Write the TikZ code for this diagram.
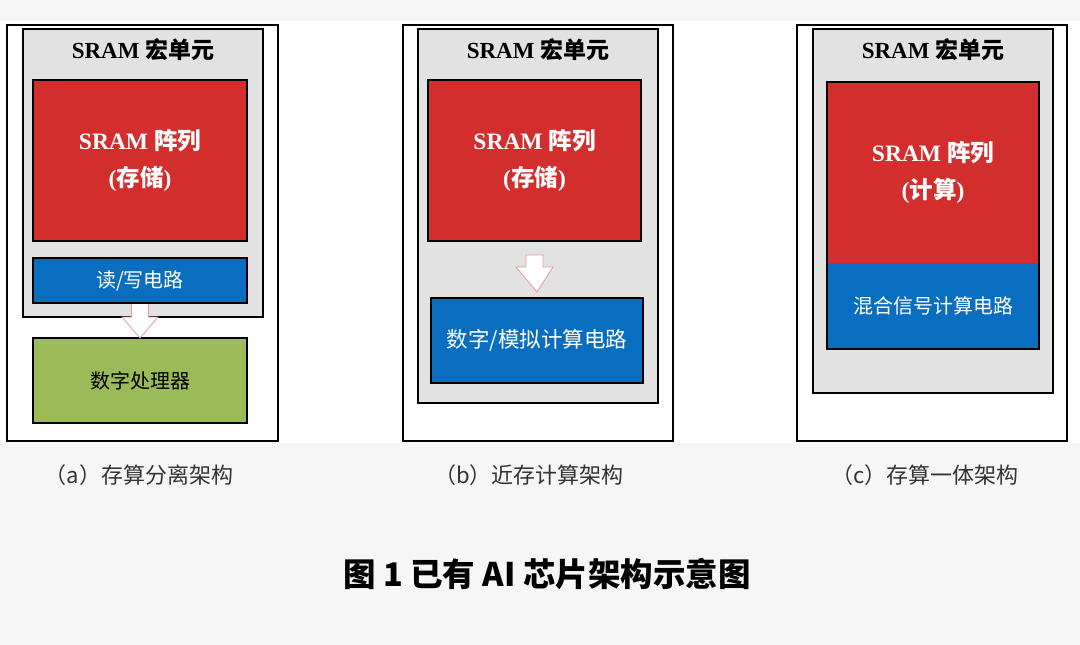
\documentclass[tikz,border=0pt]{standalone}
\usepackage{fontspec}
\setmainfont{Liberation Serif}
\newfontfamily\cjk{Noto Sans CJK SC}
\usetikzlibrary{calc}
\definecolor{bgcol}{HTML}{F6F6F6}
\definecolor{macrocol}{HTML}{E2E2E2}
\definecolor{sred}{HTML}{D32E2E}
\definecolor{sblue}{HTML}{0A6EC0}
\definecolor{sgreen}{HTML}{9BBB59}
\definecolor{arrline}{HTML}{E39A9A}
\definecolor{capcol}{HTML}{333333}
\newcommand{\lat}[1]{{\rmfamily\bfseries #1}}
\newcommand{\han}[1]{{\cjk\bfseries #1}}
\tikzset{
  box/.style={rectangle, inner sep=0pt, outer sep=0pt, anchor=north west, align=center},
  outerbox/.style={box, draw=black, line width=1.8pt, fill=white},
  macrobox/.style={box, draw=black, line width=1.8pt, fill=macrocol},
  redbox/.style={box, fill=sred, text=white, font=\fontsize{23.5}{37}\selectfont},
  bluebox/.style={box, fill=sblue, text=white, font=\fontsize{20}{24}\selectfont\cjk},
  greenbox/.style={box, fill=sgreen, text=black, font=\fontsize{20}{24}\selectfont\cjk},
  edged/.style={draw=black, line width=1.4pt},
  mtitle/.style={font=\fontsize{23}{27}\selectfont, text=black, inner sep=0pt},
  caption/.style={font=\fontsize{22}{26}\selectfont\cjk, text=capcol, inner sep=0pt},
  blockarrow/.style={fill=white, draw=arrline, line width=0.8pt, line join=miter}
}
\begin{document}
\begin{tikzpicture}[x=1pt, y=-1pt]
\useasboundingbox (0,0) rectangle (1080,645);
\fill[bgcol] (0,0) rectangle (1080,645);
\fill[white] (0,21) rectangle (1080,443);

% ---------- panel (a)
\node[outerbox, minimum width=271pt, minimum height=416pt] (oa) at (7,25) {};
\node[macrobox, minimum width=240pt, minimum height=288pt] (ma) at (23,29) {};
\node[mtitle] (ta) at (143,50) {\lat{SRAM} \han{宏单元}};
\node[redbox, edged, minimum width=214pt, minimum height=161pt] (ra) at (33,80)
  {\raisebox{-2pt}{\lat{SRAM} \han{阵列}}\\\raisebox{-2pt}{\lat{(}\han{存储}\lat{)}}};
\node[bluebox, edged, minimum width=214pt, minimum height=45pt] (ba) at (33,258) {读/写电路};
\node[greenbox, edged, minimum width=214pt, minimum height=85pt] (ga) at (33,338) {数字处理器};
\draw[blockarrow] ($(ba.south)+(-8.5,1)$) -- ($(ba.south)+(-8.5,14)$) -- ($(ba.south)+(-18,14)$)
  -- (ga.north) -- ($(ba.south)+(18,14)$) -- ($(ba.south)+(8.5,14)$) -- ($(ba.south)+(8.5,1)$);

% ---------- panel (b)
\node[outerbox, minimum width=270pt, minimum height=416pt] (ob) at (403,25) {};
\node[macrobox, minimum width=240pt, minimum height=374pt] (mb) at (418,29) {};
\node[mtitle] (tb) at (538,50) {\lat{SRAM} \han{宏单元}};
\node[redbox, edged, minimum width=213pt, minimum height=161pt] (rb) at (428,80)
  {\raisebox{-2pt}{\lat{SRAM} \han{阵列}}\\\raisebox{-2pt}{\lat{(}\han{存储}\lat{)}}};
\node[bluebox, edged, minimum width=212pt, minimum height=85pt, font=\fontsize{21.5}{24}\selectfont\cjk] (bb) at (431,298) {数字/模拟计算电路};
\draw[blockarrow] ($(rb.south)+(-8.5,14)$) -- ($(rb.south)+(-8.5,26)$) -- ($(rb.south)+(-18.5,26)$)
  -- ($(bb.north)+(0,-6)$) -- ($(rb.south)+(18.5,26)$) -- ($(rb.south)+(8.5,26)$)
  -- ($(rb.south)+(8.5,14)$) -- cycle;

% ---------- panel (c)
\node[outerbox, minimum width=270pt, minimum height=416pt] (oc) at (797,25) {};
\node[macrobox, minimum width=240pt, minimum height=364pt] (mc) at (813,29) {};
\node[mtitle] (tc) at (933,50) {\lat{SRAM} \han{宏单元}};
\node[redbox, minimum width=212pt, minimum height=181pt] (rc) at (827,82)
  {\raisebox{-2pt}{\lat{SRAM} \han{阵列}}\\\raisebox{-2pt}{\lat{(}\han{计算}\lat{)}}};
\node[bluebox, minimum width=212pt, minimum height=86pt] (bc) at (827,263) {混合信号计算电路};
\draw[edged] (rc.north west) rectangle (bc.south east);

% ---------- captions
\node[caption] (ca) at (139,475) {（a）存算分离架构};
\node[caption] (cb) at (529,475) {（b）近存计算架构};
\node[caption] (cc) at (925,475) {（c）存算一体架构};

\node[font=\fontsize{32.5}{38}\selectfont\cjk\bfseries, text=black, inner sep=0pt] (title) at (547,574)
  {图 1 已有 AI 芯片架构示意图};
\end{tikzpicture}
\end{document}
